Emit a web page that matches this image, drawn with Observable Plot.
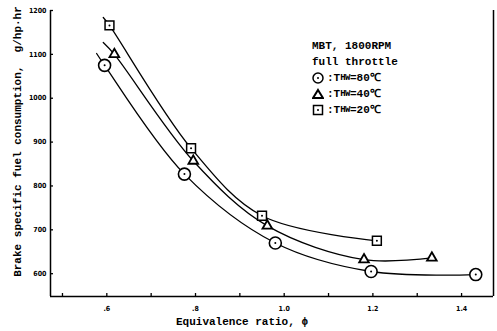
<!DOCTYPE html>
<html>
<head>
<meta charset="utf-8">
<script src="https://cdn.jsdelivr.net/npm/d3@7"></script>
<script src="https://cdn.jsdelivr.net/npm/@observablehq/plot@0.6"></script>
<style>
  body { margin: 0; background: #fff; }
  #wrap { position: relative; width: 497px; height: 331px; }
  #legend { position: absolute; left: 312px; top: 38px; font-family: "Liberation Mono", monospace; font-weight: bold; font-size: 11px; line-height: 16px; color: #000; }
  #legend .row { display: flex; align-items: center; height: 16px; }
  #legend svg { margin-right: 3px; }
  #legend sub { font-size: 9px; vertical-align: 0; letter-spacing: -0.5px; }
</style>
</head>
<body>
<div id="wrap"><div id="chart"></div>
<div id="legend">
  <div class="row">MBT, 1800RPM</div>
  <div class="row">full throttle</div>
  <div class="row"><svg width="12" height="12"><circle cx="6" cy="6" r="5" fill="#fff" stroke="#000" stroke-width="1.5"/><circle cx="6" cy="6" r="1" fill="#000"/></svg>:T<sub>HW</sub>=80℃</div>
  <div class="row"><svg width="12" height="12"><path d="M6 2 L11 10 L1 10 Z" fill="#fff" stroke="#000" stroke-width="2"/></svg>:T<sub>HW</sub>=40℃</div>
  <div class="row"><svg width="12" height="12"><rect x="1.5" y="1.5" width="9" height="9" fill="#fff" stroke="#000" stroke-width="1.5"/><circle cx="6" cy="6" r="1" fill="#000"/></svg>:T<sub>HW</sub>=20℃</div>
</div>
</div>
<script>
// Data
const series = ["80", "40", "20"];
const phi80 = [0.595, 0.775, 0.98, 1.196, 1.432];
const bsfc80 = [1075, 827, 670, 605, 598];
const phi40 = [0.617, 0.795, 0.962, 1.18, 1.333];
const bsfc40 = [1100, 857, 709, 632, 636];
const phi20 = [0.606, 0.79, 0.95, 1.209];
const bsfc20 = [1166, 886, 732, 675];
// where each hand-drawn curve begins (upper-left end)
const curveStartPhi = [0.577, 0.592, 0.592];
const curveStartBsfc = [1102, 1127, 1184];
const xTicks = [0.5, 0.6, 0.7, 0.8, 0.9, 1.0, 1.1, 1.2, 1.3, 1.4];
const xLabels = [0.6, 0.8, 1.0, 1.2, 1.4];
const yTicks = [600, 700, 800, 900, 1000, 1100, 1200];
const xDomain = [0.473, 1.472];
const yDomain = [548, 1200];

const pts = (phi, b, s) => phi.map((x, i) => ({x, y: b[i], s}));
const p80 = pts(phi80, bsfc80, "80");
const p40 = pts(phi40, bsfc40, "40");
const p20 = pts(phi20, bsfc20, "20");
const allPts = [p80, p40, p20];
const lineData = allPts.flatMap((p, i) => [{x: curveStartPhi[i], y: curveStartBsfc[i], s: series[i]}, ...p]);

const fmtX = d => d < 1 ? String(d.toFixed(1)).replace(/^0/, "") : d.toFixed(1);

const chart = Plot.plot({
  width: 497,
  height: 331,
  marginLeft: 50,
  marginRight: 4,
  marginTop: 10,
  marginBottom: 35,
  x: {domain: xDomain},
  y: {domain: yDomain},
  style: {fontFamily: "DejaVu Sans Condensed, sans-serif", fontSize: "7px", fontWeight: "bold", color: "#000", background: "#fff"},
  marks: [
    Plot.ruleX([xDomain[0], xDomain[1]], {y1: yDomain[0], y2: yDomain[1], stroke: "#000", strokeWidth: 1.5}),
    Plot.ruleY([yDomain[0]], {stroke: "#000", strokeWidth: 1.5}),
    Plot.axisX({ticks: xTicks, tickSize: -3, tickFormat: () => "", label: null, strokeWidth: 1.3}),
    Plot.axisX({ticks: xLabels, tickSize: 0, tickPadding: 10, tickFormat: fmtX, label: null}),
    Plot.axisY({ticks: yTicks, tickSize: -3, tickPadding: 7, tickFormat: d => String(d), label: null, strokeWidth: 1.3}),
    Plot.line(lineData, {x: "x", y: "y", z: "s", curve: "catmull-rom", stroke: "#000", strokeWidth: 1.3}),
    Plot.dot(p80, {x: "x", y: "y", symbol: "circle", r: 6, fill: "#fff", stroke: "#000", strokeWidth: 1.6}),
    Plot.dot(p40, {x: "x", y: "y", symbol: "triangle", r: 3.6, fill: "#fff", stroke: "#000", strokeWidth: 1.8}),
    Plot.dot(p20, {x: "x", y: "y", symbol: "square", r: 5, fill: "#fff", stroke: "#000", strokeWidth: 1.5}),
    Plot.dot([...p80, ...p20], {x: "x", y: "y", r: 1, fill: "#000"}),
    Plot.text(["Equivalence ratio, \u03d5"], {frameAnchor: "bottom", dy: 28, dx: -30, fontFamily: "Liberation Mono, monospace", fontSize: 11, fontWeight: "bold"}),
    Plot.text(["Brake specific fuel consumption,  g/hp\u00b7hr"], {frameAnchor: "left", textAnchor: "middle", rotate: -90, dx: -33, dy: -12, fontFamily: "Liberation Mono, monospace", fontSize: 11, fontWeight: "bold"})
  ]
});
document.getElementById("chart").appendChild(chart);
</script>
</body>
</html>
